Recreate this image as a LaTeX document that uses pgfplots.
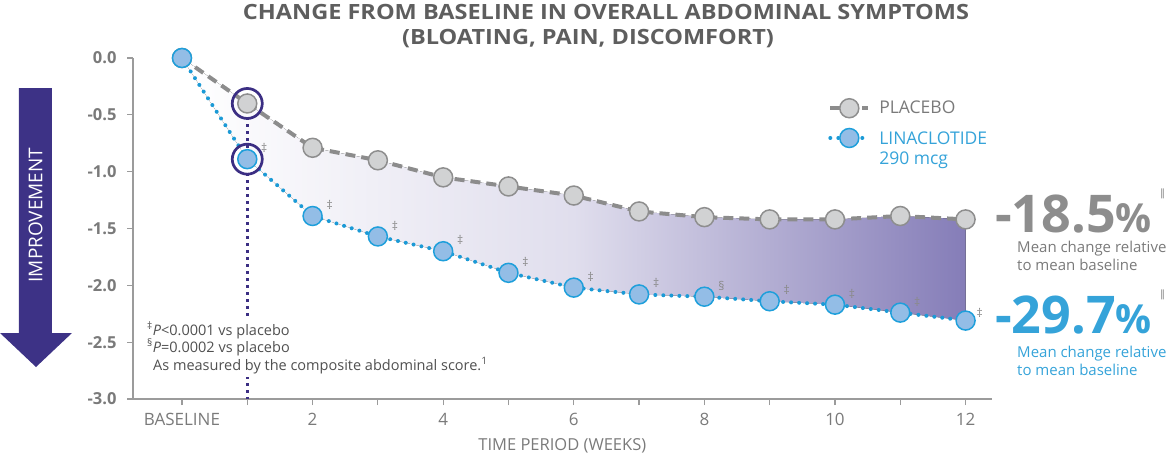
\documentclass[border=0pt]{standalone}
\usepackage{fontspec}
\setmainfont{Open Sans}
\newfontfamily\dejavu{DejaVu Sans}
\usepackage{graphicx}
\usepackage{pgfplots}
\pgfplotsset{compat=1.18}
\usepgfplotslibrary{fillbetween}
\definecolor{axisgray}{HTML}{9B9B9B}
\definecolor{tickgray}{HTML}{7A7A7A}
\definecolor{titlegray}{HTML}{5E5E5E}
\definecolor{plline}{HTML}{8C8C8C}
\definecolor{plfill}{HTML}{D1D2D3}
\definecolor{pledge}{HTML}{8E8E8E}
\definecolor{liline}{HTML}{1B9AD6}
\definecolor{lifill}{HTML}{93BDE6}
\definecolor{liedge}{HTML}{1E9FDB}
\definecolor{ringpurple}{HTML}{3B2E83}
\definecolor{arrowpurple}{HTML}{3D3286}
\definecolor{bluetext}{HTML}{35A3D9}
\definecolor{biggray}{HTML}{8D8D8D}
\definecolor{fillright}{HTML}{857DB8}
\definecolor{fillmid}{HTML}{E0DEED}
\definecolor{notegray}{HTML}{505050}
\definecolor{daggray}{HTML}{8A8A8A}
\tikzset{dag/.style={font=\fontsize{12}{12}\selectfont, text=daggray, xshift=17pt, yshift=11pt}}
\begin{document}
\begin{tikzpicture}
\begin{axis}[
  at={(0pt,0pt)}, anchor=south west,
  width=858.7pt, height=341pt, scale only axis,
  xmin=-0.75, xmax=12.4, ymin=-3, ymax=0,
  axis lines*=left,
  clip=false,
  xtick={0,1,2,3,4,5,6,7,8,9,10,11,12},
  xticklabels={BASELINE,,2,,4,,6,,8,,10,,12},
  ytick={-3,-2.5,-2,-1.5,-1,-0.5,0},
  yticklabels={-3.0,-2.5,-2.0,-1.5,-1.0,-0.5,0.0},
  tick align=outside, major tick length=6pt,
  tick style={axisgray, line width=1.2pt},
  axis line style={axisgray, line width=1.2pt},
  x tick label style={font=\fontsize{17}{19}\selectfont, text=tickgray, yshift=-4.5pt},
  y tick label style={font=\fontsize{16.5}{18}\selectfont\bfseries, text=tickgray, xshift=-7pt},
  xlabel={TIME PERIOD (WEEKS)},
  xlabel style={font=\fontsize{16.5}{18}\selectfont, text=tickgray, at={(axis description cs:0.5,-0.1496)}, anchor=base},
  legend style={draw=none, fill=none, at={(0.806,0.887)}, anchor=north west, font=\fontsize{17.5}{20}\selectfont, row sep=10.5pt},
  legend cell align=left,
  legend image code/.code={\draw[mark repeat=2,mark phase=2,#1] plot coordinates {(0pt,0pt) (19pt,0pt) (38pt,0pt)};},
]
\addplot[ringpurple, line width=3pt, dash pattern=on 3pt off 4pt, forget plot] coordinates {(1,-0.4) (1,-3)};

\addplot[name path=pl, plline, line width=4pt, dash pattern=on 10pt off 6pt, mark=*, mark size=9.5pt,
  mark options={solid, fill=plfill, draw=pledge, line width=1.5pt}] coordinates {
  (0,0.00) (1,-0.40) (2,-0.79) (3,-0.90) (4,-1.05) (5,-1.13) (6,-1.21)
  (7,-1.35) (8,-1.40) (9,-1.42) (10,-1.42) (11,-1.39) (12,-1.42)};
\addlegendentry{\hspace{7pt}\textcolor{tickgray}{PLACEBO}}

\addplot[name path=li, liline, line width=4pt, line cap=round, dash pattern=on 0pt off 8pt, mark=*, mark size=9.5pt,
  mark options={solid, fill=lifill, draw=liedge, line width=1.5pt}] coordinates {
  (0,0.00) (1,-0.89) (2,-1.39) (3,-1.57) (4,-1.70) (5,-1.89) (6,-2.02)
  (7,-2.08) (8,-2.10) (9,-2.14) (10,-2.17) (11,-2.24) (12,-2.31)};
\addlegendentry{\hspace{7pt}\begin{tabular}[t]{@{}l@{}}\textcolor{bluetext}{LINACLOTIDE}\\\textcolor{bluetext}{290 mcg}\end{tabular}}

\addplot[draw=none, left color=white, right color=fillright, middle color=fillmid, forget plot] fill between[of=pl and li];

\addplot[only marks, mark=o, mark size=15pt, mark options={draw=ringpurple, line width=2.7pt}, forget plot] coordinates {(1,-0.40) (1,-0.89)};

\node[dag] at (axis cs:1,-0.89) {‡};
\node[dag] at (axis cs:2,-1.39) {‡};
\node[dag] at (axis cs:3,-1.57) {‡};
\node[dag] at (axis cs:4,-1.70) {‡};
\node[dag] at (axis cs:5,-1.89) {‡};
\node[dag] at (axis cs:6,-2.02) {‡};
\node[dag] at (axis cs:7,-2.08) {‡};
\node[dag] at (axis cs:8,-2.10) {§};
\node[dag] at (axis cs:9,-2.14) {‡};
\node[dag] at (axis cs:10,-2.17) {‡};
\node[dag] at (axis cs:11,-2.24) {‡};
\node[dag, xshift=-3pt, yshift=-3pt] at (axis cs:12,-2.31) {‡};
\end{axis}

\begin{scope}[x=1pt,y=1pt]
% improvement arrow
\fill[arrowpurple] (-114,311) -- (-81,311) -- (-81,66) -- (-61,66) -- (-97,32) -- (-133,66) -- (-114,66) -- cycle;
\node[rotate=90, text=white, font=\fontsize{19}{19}\selectfont] at (-97.5,184) {IMPROVEMENT};

% title
\node[anchor=base, font=\fontsize{21}{21}\selectfont\bfseries, text=titlegray, inner sep=0] at (473,379) {\scalebox{1.12}[1]{CHANGE FROM BASELINE IN OVERALL ABDOMINAL SYMPTOMS}};
\node[anchor=base, font=\fontsize{21}{21}\selectfont\bfseries, text=titlegray, inner sep=0] at (455,354) {\scalebox{1.12}[1]{(BLOATING, PAIN, DISCOMFORT)}};

% footnotes
\fill[white] (11,22) rectangle (346,79);
\node[anchor=base west, font=\fontsize{14.5}{14.5}\selectfont, text=notegray, inner sep=0] at (14,64) {\textsuperscript{‡}\textit{P}<0.0001 vs placebo};
\node[anchor=base west, font=\fontsize{14.5}{14.5}\selectfont, text=notegray, inner sep=0] at (14,47) {\textsuperscript{§}\textit{P}=0.0002 vs placebo};
\node[anchor=base west, font=\fontsize{14.5}{14.5}\selectfont, text=notegray, inner sep=0] at (20,29) {As measured by the composite abdominal score.\textsuperscript{1}};

% right annotations
\node[anchor=base west, inner sep=0, text depth=0pt, text=biggray, font=\fontsize{52}{52}\selectfont\bfseries] at (862,167) {-18.5{\fontsize{40}{40}\selectfont\%}};
\node[anchor=base west, inner sep=0, text=daggray, font=\dejavu\fontsize{10}{10}\selectfont] at (1027,203) {‖};
\node[anchor=base west, inner sep=0, text=tickgray, font=\fontsize{15}{15}\selectfont] at (884,147) {Mean change relative};
\node[anchor=base west, inner sep=0, text=tickgray, font=\fontsize{15}{15}\selectfont] at (884,129) {to mean baseline};

\node[anchor=base west, inner sep=0, text depth=0pt, text=bluetext, font=\fontsize{52}{52}\selectfont\bfseries] at (862,66) {-29.7{\fontsize{40}{40}\selectfont\%}};
\node[anchor=base west, inner sep=0, text=daggray, font=\dejavu\fontsize{10}{10}\selectfont] at (1027,102) {‖};
\node[anchor=base west, inner sep=0, text=bluetext, font=\fontsize{15}{15}\selectfont] at (884,42) {Mean change relative};
\node[anchor=base west, inner sep=0, text=bluetext, font=\fontsize{15}{15}\selectfont] at (884,24) {to mean baseline};

\pgfresetboundingbox
\path[use as bounding box] (-133,-60) rectangle (1035,399);
\end{scope}
\end{tikzpicture}
\end{document}
